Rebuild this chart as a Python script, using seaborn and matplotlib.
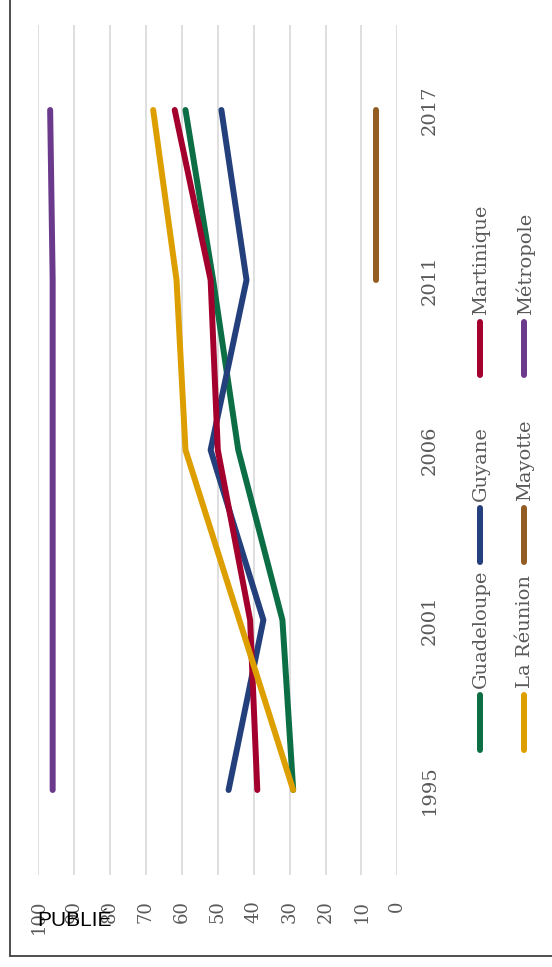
import numpy as np
import pandas as pd
import seaborn as sns
import matplotlib.pyplot as plt
from matplotlib.lines import Line2D

# data (rotated 90 degrees in the reference)
years = ["1995", "2001", "2006", "2011", "2017"]
regions = ["Guadeloupe", "Guyane", "Martinique", "La Réunion", "Mayotte", "Métropole"]
guadeloupe = [29, 32, 44.3, 51.3, 59]
guyane = [47, 37.3, 52, 42, 49]
martinique = [39, 41, 50, 52, 62]
la_reunion = [29, 44, 59, 61.5, 68]
mayotte = [np.nan, np.nan, np.nan, 6, 6]
metropole = [96, 96, 96, 96, 96.7]
colors = ["#0b6e45", "#24407c", "#a3002e", "#dd9f00", "#925c23", "#6b3a8c"]
value_ticks = list(range(0, 101, 10))

series = [guadeloupe, guyane, martinique, la_reunion, mayotte, metropole]
rows = []
for name, vals in zip(regions, series):
    for i, v in enumerate(vals):
        rows.append({"region": name, "pos": i, "year": years[i], "value": v})
df = pd.DataFrame(rows).dropna()

sns.set_style("white")
plt.rcParams["font.family"] = ["DejaVu Serif"]

W, H = 552, 967
fig = plt.figure(figsize=(W / 100, H / 100), dpi=100)
ax = fig.add_axes([38.3 / W, (H - 875) / H, 359 / W, 850 / H])

sns.lineplot(data=df, x="value", y="pos", hue="region", hue_order=regions,
             palette=colors, sort=False, orient="y", linewidth=4.3,
             solid_capstyle="round", legend=False, ax=ax)

ax.set_xlim(100, 0)
ax.set_ylim(-0.5, 4.5)
ax.set_xticks(value_ticks)
ax.set_yticks(range(len(years)))
ax.set_yticklabels(years)
ax.grid(axis="x", color="#d9d9d9", linewidth=1.2)
ax.grid(axis="y", visible=False)
for s in ax.spines.values():
    s.set_visible(False)
ax.set_xlabel("")
ax.set_ylabel("")

ax.tick_params(axis="x", length=0, pad=18, labelsize=13, labelcolor="#595959")
ax.tick_params(axis="y", length=0, pad=17, labelsize=14, labelcolor="#595959",
               left=False, labelleft=False, right=True, labelright=True)
plt.setp(ax.get_xticklabels(), rotation=90, ha="center", va="top")
plt.setp(ax.get_yticklabels(), rotation=90, ha="left", va="center")

# legend, rotated like the rest of the chart
leg_cols = [480 / W, 524 / W]
leg_rows = [(750, 695), (562, 508), (375, 322)]
for k, name in enumerate(regions):
    col = k // 3
    row = k % 3
    y0, y1 = leg_rows[row]
    fig.add_artist(Line2D([leg_cols[col]] * 2, [(H - y0) / H, (H - y1) / H],
                          color=colors[k], linewidth=4.3, solid_capstyle="round",
                          transform=fig.transFigure))
    fig.text(leg_cols[col] + 1 / W, (H - y1 + 7) / H, name, rotation=90,
             ha="center", va="bottom", fontsize=14, color="#595959")

# frame edges
fig.add_artist(Line2D([9.5 / W, 9.5 / W], [1, (H - 956) / H], color="#404040",
                      linewidth=1.3, transform=fig.transFigure))
fig.add_artist(Line2D([9.5 / W, 1], [(H - 956) / H, (H - 956) / H], color="#404040",
                      linewidth=1.3, transform=fig.transFigure))

fig.text(37 / W, (H - 920) / H, "PUBLIÉ", family=["Liberation Sans", "DejaVu Sans"],
         fontsize=15, color="black", ha="left", va="center")

fig.savefig("out.png", dpi=100, facecolor="white")
